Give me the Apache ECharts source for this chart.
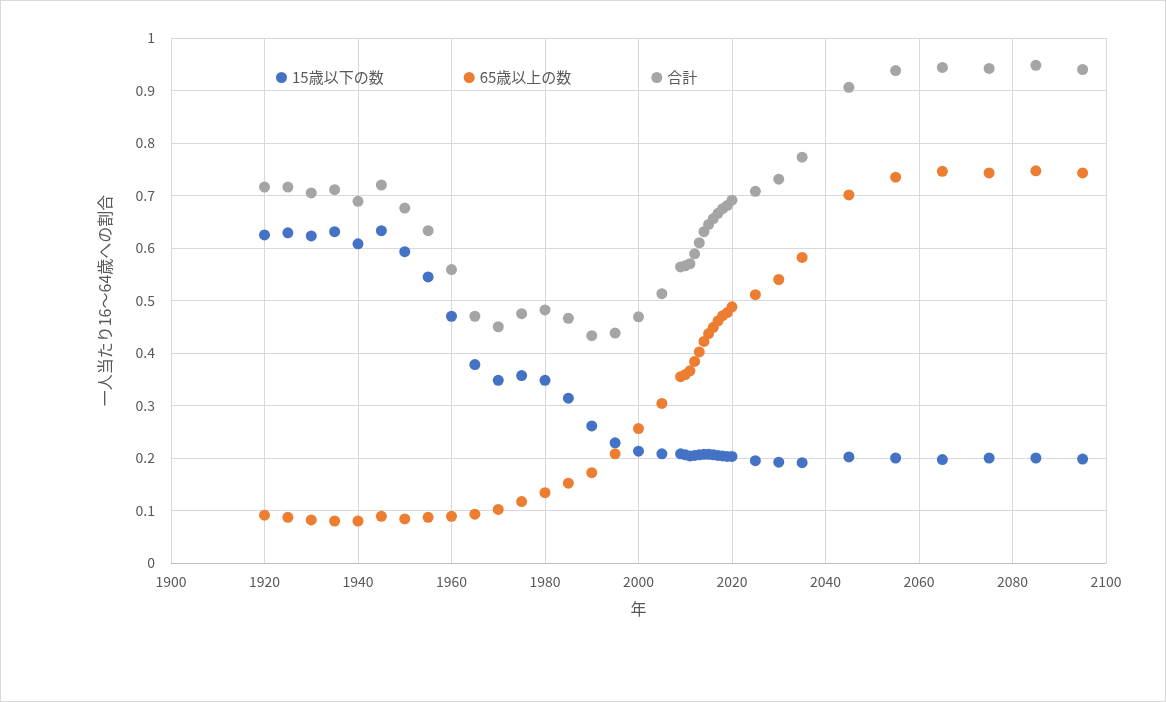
<!DOCTYPE html><html><head><meta charset="utf-8"><script src="https://cdn.jsdelivr.net/npm/echarts@6/dist/echarts.min.js"></script>
<style>body{margin:0}#c{width:1166px;height:702px;box-sizing:border-box;border:1px solid #d9d9d9}</style></head><body><div id="c"></div><script>
const years=[1920,1925,1930,1935,1940,1945,1950,1955,1960,1965,1970,1975,1980,1985,1990,1995,2000,2005,2009,2010,2011,2012,2013,2014,2015,2016,2017,2018,2019,2020,2025,2030,2035,2045,2055,2065,2075,2085,2095];
const under15=[.625,.629,.623,.631,.608,.633,.593,.545,.470,.378,.348,.357,.348,.314,.261,.229,.213,.208,.208,.206,.204,.205,.206,.207,.207,.206,.205,.204,.203,.203,.195,.192,.191,.202,.200,.197,.200,.200,.198];
const over65=[.091,.087,.082,.080,.080,.089,.084,.087,.089,.093,.102,.117,.134,.152,.172,.208,.256,.304,.355,.359,.366,.384,.402,.422,.437,.449,.461,.471,.477,.488,.511,.540,.582,.701,.735,.746,.743,.747,.743];
const total=[.716,.716,.705,.711,.689,.720,.676,.633,.559,.470,.450,.475,.482,.466,.433,.438,.469,.513,.564,.566,.570,.589,.610,.631,.645,.656,.666,.675,.681,.691,.708,.731,.773,.906,.938,.944,.942,.948,.940];
const names=['15歳以下の数','65歳以上の数','合計'];
const colors=['#4472C4','#ED7D31','#A5A5A5'];
const font='"Noto Sans CJK JP","Noto Sans",sans-serif';
const mk=(a)=>years.map((y,i)=>[y,a[i]]);
const ch=echarts.init(document.getElementById('c'));
ch.setOption({
 textStyle:{fontFamily:font},
 grid:{left:170,right:59,top:37,bottom:138},
 legend:{top:64,left:270,itemGap:80,icon:'circle',itemWidth:11,itemHeight:11,textStyle:{fontSize:15,color:'#595959',fontFamily:font},data:names},
 xAxis:{type:'value',min:1900,max:2100,interval:20,name:'年',nameLocation:'middle',nameGap:38,nameTextStyle:{fontSize:16,color:'#595959'},
  axisLine:{show:true,lineStyle:{color:'#bfbfbf'}},axisTick:{show:false},axisLabel:{fontSize:14,color:'#595959',margin:12,formatter:v=>String(v)},splitLine:{lineStyle:{color:'#d9d9d9'}}},
 yAxis:{type:'value',min:0,max:1,interval:0.1,name:'一人当たり16〜64歳への割合',nameLocation:'middle',nameGap:58,nameRotate:90,nameTextStyle:{fontSize:16,color:'#595959'},
  axisLine:{show:false},axisTick:{show:false},axisLabel:{fontSize:14,color:'#595959',margin:16,formatter:v=>String(+v.toFixed(1))},splitLine:{lineStyle:{color:'#d9d9d9'}}},
 series:[under15,over65,total].map((a,i)=>({name:names[i],type:'scatter',data:mk(a),symbolSize:11,itemStyle:{color:colors[i],opacity:1}}))
});
</script></body></html>
